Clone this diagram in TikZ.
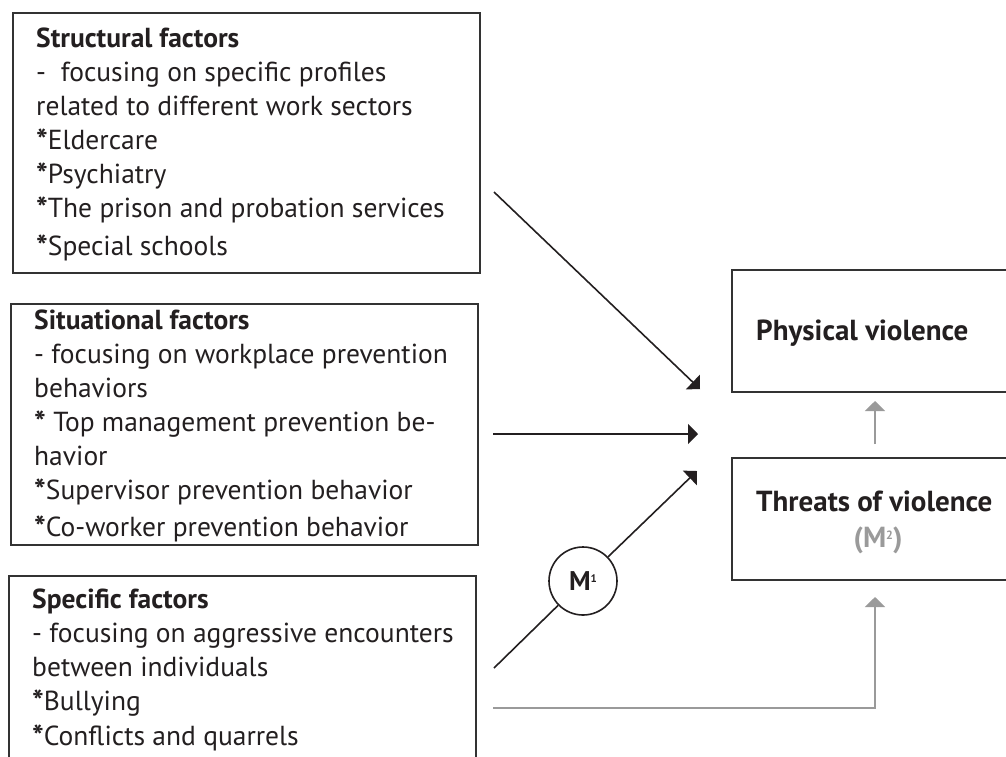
\documentclass[tikz,border=0pt]{standalone}
\usepackage{fontspec}
\setmainfont{PT Sans}
\usetikzlibrary{arrows.meta}
\definecolor{ink}{HTML}{231F20}
\definecolor{edge}{HTML}{333333}
\definecolor{lgray}{HTML}{9A9A9A}
\newcommand{\sstar}{\raisebox{-2.5pt}{\bfseries\fontsize{31}{34}\selectfont *}}
\begin{document}
\begin{tikzpicture}[x=1pt,y=-1pt,
  box/.style={draw=edge, line width=1.6pt, inner sep=0pt, anchor=north west},
  txt/.style={inner sep=0pt, align=left, text=ink, anchor=base west, font=\fontsize{27.5}{34}\selectfont},
  big/.style={inner sep=0pt, text=ink, anchor=base west, font=\fontsize{29}{32}\selectfont\bfseries},
  arr/.style={draw=ink, line width=1.6pt, -{Triangle[length=10pt,width=20pt]}},
  plain/.style={draw=ink, line width=1.6pt},
  garr/.style={draw=lgray, line width=1.4pt, -{Triangle[length=10pt,width=20pt]}},
  mcirc/.style={draw=ink, line width=1.6pt, circle, minimum size=68pt, inner sep=0pt, text=ink, font=\fontsize{27}{27}\selectfont\bfseries}]
\useasboundingbox (0,0) rectangle (1006,756);
\clip (0,0) rectangle (1006,756);
\fill[white] (0,0) rectangle (1006,756);

% left boxes
\node[box, minimum width=467pt, minimum height=260pt] (b1) at (12,12) {};
\node[box, minimum width=467pt, minimum height=241pt] (b2) at (10,303) {};
\node[box, minimum width=467pt, minimum height=210pt] (b3) at (8,575) {};

% right boxes
\node[box, minimum width=300pt, minimum height=122pt] (pv) at (731,269) {};
\node[box, minimum width=300pt, minimum height=122pt] (tv) at (731,457) {};

% texts (anchored at the baseline of their last line)
\node[txt] (t1) at (36,255) {\textbf{Structural factors}\\
-\ \ focusing on specific profiles\\
related to different work sectors\\
\sstar Eldercare\\
\sstar Psychiatry\\
\sstar The prison and probation services\\[4pt]
\sstar Special schools};

\node[txt] (t2) at (34,536) {\textbf{Situational factors}\\
- focusing on workplace prevention\\
behaviors\\
\sstar\ Top management prevention be-\\
havior\\
\sstar Supervisor prevention behavior\\[3pt]
\sstar Co-worker prevention behavior};

\node[txt] (t3) at (32,745) {\textbf{Specific factors}\\
- focusing on aggressive encounters\\
between individuals\\
\sstar Bullying\\[1pt]
\sstar Conflicts and quarrels};

\node[big] (pvt) at (756,340) {Physical violence};
\node[big] (tvt) at (756,511) {Threats of violence};
\node[inner sep=0pt, anchor=base, text=lgray, font=\fontsize{29}{32}\selectfont\bfseries] (m2) at (878,547) {(M\raisebox{8pt}{\fontsize{12}{12}\selectfont 2})};

% mediator circle
\node[mcirc] (m1) at (583,581) {M\raisebox{8pt}{\fontsize{11}{11}\selectfont 1}};

% connectors
\coordinate (a1s) at (494,192);
\coordinate (a1e) at (700,389);
\coordinate (a2s) at (493,434);
\coordinate (a2e) at (698,434);
\coordinate (a3s) at (494,668);
\coordinate (a3e) at (697,471);
\coordinate (g1s) at (493,708);
\coordinate (g1e) at (875,597);
\coordinate (g2s) at (875,444);
\coordinate (g2e) at (875,401);

\draw[arr] (a1s) -- (a1e);
\draw[arr] (a2s) -- (a2e);
\draw[plain] (a3s) -- (m1);
\draw[arr] (m1) -- (a3e);
\draw[garr] (g1s) -| (g1e);
\draw[garr] (g2s) -- (g2e);
\end{tikzpicture}
\end{document}
